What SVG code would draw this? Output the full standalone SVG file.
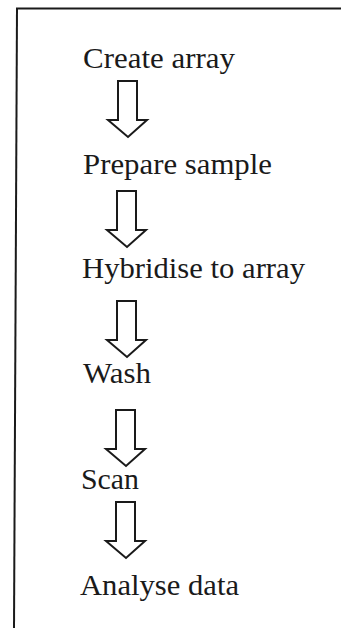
<svg xmlns="http://www.w3.org/2000/svg" width="341" height="628" viewBox="0 0 341 628">
<style>
.t{font-family:"Liberation Serif","Times New Roman",serif;font-size:29px;fill:#1a1a1a}
.a{fill:#fff;stroke:#1a1a1a;stroke-width:2;stroke-linejoin:miter}
.f{stroke:#1a1a1a;stroke-width:2;fill:none}
</style>
<defs>
<path id="arr" class="a" d="M-11,0 H8 V39 H18 L-1,56 L-21,39 H-11 Z"/>
</defs>
<g id="frame">
<line class="f" x1="16" y1="8.5" x2="341" y2="8.5"/>
<line class="f" x1="17" y1="8" x2="14" y2="628"/>
</g>
<g id="n1"><text class="t" x="83" y="68" textLength="152" lengthAdjust="spacingAndGlyphs">Create array</text></g>
<g id="n2"><text class="t" x="83" y="174" textLength="189" lengthAdjust="spacingAndGlyphs">Prepare sample</text></g>
<g id="n3"><text class="t" x="82" y="278" textLength="223" lengthAdjust="spacingAndGlyphs">Hybridise to array</text></g>
<g id="n4"><text class="t" x="83" y="383" textLength="68" lengthAdjust="spacingAndGlyphs">Wash</text></g>
<g id="n5"><text class="t" x="81" y="489" textLength="58" lengthAdjust="spacingAndGlyphs">Scan</text></g>
<g id="n6"><text class="t" x="80" y="595" textLength="159" lengthAdjust="spacingAndGlyphs">Analyse data</text></g>
<g id="connectors">
<use href="#arr" x="129" y="81"/>
<use href="#arr" x="128" y="191"/>
<use href="#arr" x="128" y="301"/>
<use href="#arr" x="127" y="410"/>
<use href="#arr" x="127" y="502"/>
</g>
</svg>
